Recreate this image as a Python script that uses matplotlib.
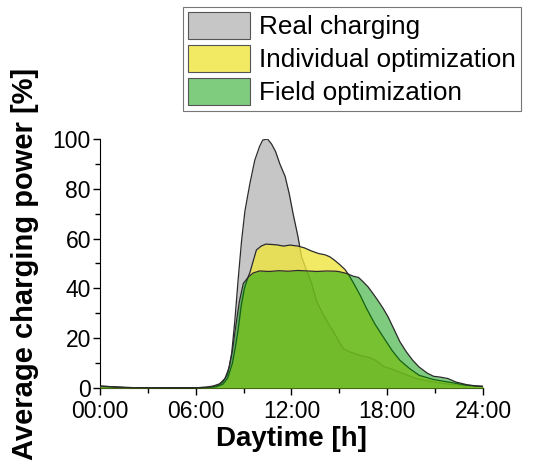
import matplotlib
matplotlib.use('Agg')
import matplotlib.pyplot as plt
from matplotlib.ticker import MultipleLocator, FuncFormatter

plt.rcParams['font.family'] = ['Liberation Sans', 'DejaVu Sans']

# real charging profile
real_h = [0, 0.5, 1, 1.5, 2, 4, 6, 6.8, 7.4, 7.7, 8.0, 8.25, 8.45, 8.65, 8.87, 9.08, 9.39, 9.7, 10.0,
          10.2, 10.5, 10.75, 11.0, 11.27, 11.6, 11.86, 12.1, 12.4, 12.63, 12.94, 13.26, 13.57, 13.9,
          14.3, 14.7, 15.24, 15.66, 16.28, 16.9, 17.33, 17.75, 18.37, 19.0, 19.8, 20.9, 21.9, 23.0, 24.0]
real_p = [0.8, 0.6, 0.4, 0.2, 0.15, 0.1, 0.1, 0.3, 1.0, 2.4, 5.5, 13.8, 27, 43, 59, 71, 82, 91.5, 97,
          99.6, 100, 98, 95, 90, 85, 78, 70, 61, 52.7, 47.3, 42, 35, 30.6,
          26, 21.8, 15.8, 14.5, 13.1, 12.2, 10.9, 8.7, 7.4, 5.8, 3.8, 2.4, 1.5, 0.8, 0.5]

# individual optimization
ind_h = [0, 0.5, 1, 1.5, 2, 4, 6, 6.8, 7.3, 7.7, 8.0, 8.3, 8.5, 8.65, 8.85, 9.05, 9.25, 9.4, 9.6, 9.8,
         10.1, 10.4, 11.06, 11.5, 11.9, 12.4, 12.8, 13.26, 13.7, 14.1, 14.4, 14.7, 15.0, 15.35, 15.6,
         15.9, 16.3, 16.7, 17.2, 17.75, 18.3, 18.8, 19.4, 20.0, 20.9, 21.9, 23.0, 24.0]
ind_p = [0.6, 0.5, 0.3, 0.2, 0.15, 0.1, 0.1, 0.2, 0.5, 1.5, 4, 10, 17, 23, 33, 40, 44, 46.5, 51, 55.4,
         57, 57.8, 57.5, 57, 57.4, 57, 56.3, 55, 54, 53.5, 52.7, 51.3, 49.7, 47.6, 45.3,
         42, 37.3, 32, 26, 20.5, 15.1, 11.1, 7.8, 5.1, 3.4, 2.3, 1.1, 0.6]

# field optimization
field_h = [0, 0.5, 1, 1.5, 2, 4, 6, 6.6, 7.1, 7.5, 7.83, 8.1, 8.3, 8.5, 8.73, 8.98, 9.3, 9.6, 10.0,
           10.6, 11.2, 11.8, 12.4, 13.0, 13.6, 14.2, 14.8, 15.0, 15.45, 15.87, 16.2, 16.5, 16.8,
           17.1, 17.4, 17.75, 18.05, 18.4, 18.8, 19.2, 19.6, 20.0, 20.5, 20.9, 21.3, 21.8, 22.3,
           23.0, 23.6, 24.0]
field_p = [0.7, 0.6, 0.4, 0.25, 0.15, 0.1, 0.1, 0.3, 0.8, 1.7, 3.8, 8.4, 15, 24.5, 34.6, 42, 44.6, 46.2, 47,
           46.8, 47.1, 46.9, 47.2, 47, 46.8, 47, 46.9, 46.7, 46, 44.9, 44.4, 42.6, 40.6,
           38, 35.3, 31.9, 28.6, 23.9, 18.5, 14.5, 11.1, 8.4, 6, 4.7, 4.4, 3.8, 2.4,
           1.3, 0.8, 0.7]

fig = plt.figure(figsize=(5.54, 4.66), dpi=100)
ax = fig.add_axes([0.1805, 0.1674, 0.6913, 0.5343])

edge = '#2b2b2b'
# each fill is drawn over the previous one's outline
ax.fill_between(real_h, real_p, color='#c6c6c6', alpha=1.0, lw=0, zorder=1)
ax.plot(real_h, real_p, color=edge, lw=0.9, zorder=2)
ax.fill_between(ind_h, ind_p, color='#efe53d', alpha=0.8, lw=0, zorder=3)
ax.plot(ind_h, ind_p, color=edge, lw=0.9, zorder=4)
ax.fill_between(field_h, field_p, color='#009900', alpha=0.5, lw=0, zorder=5)
ax.plot(field_h, field_p, color=edge, lw=0.9, zorder=6)

ax.set_xlim(0, 24)
ax.set_ylim(0, 100)
ax.spines['top'].set_visible(False)
ax.spines['right'].set_visible(False)
ax.xaxis.set_major_locator(MultipleLocator(6))
ax.xaxis.set_minor_locator(MultipleLocator(3))
ax.yaxis.set_major_locator(MultipleLocator(20))
ax.yaxis.set_minor_locator(MultipleLocator(10))
ax.xaxis.set_major_formatter(FuncFormatter(lambda v, p: '%02d:00' % int(v)))
ax.tick_params(which='major', direction='out', length=5, width=1, labelsize=16.5)
ax.tick_params(axis='x', which='major', pad=4)
ax.tick_params(axis='y', which='major', pad=1.5)
ax.tick_params(which='minor', direction='out', length=3.5, width=1)

ax.set_xlabel('Daytime [h]', fontsize=20, fontweight='bold', labelpad=2)
ax.set_ylabel('Average charging power [%]', fontsize=21, fontweight='bold', labelpad=10)

handles = [plt.Rectangle((0, 0), 1, 1, fc='#c6c6c6', ec='#555555', lw=0.8),
           plt.Rectangle((0, 0), 1, 1, fc='#f2ea62', ec='#555555', lw=0.8),
           plt.Rectangle((0, 0), 1, 1, fc='#7fcc7f', ec='#555555', lw=0.8)]
leg = fig.legend(handles, ['Real charging', 'Individual optimization', 'Field optimization'],
                 loc='upper left', bbox_to_anchor=(183 / 554, 1 - 7 / 466), fontsize=18.8,
                 fancybox=False, framealpha=1, edgecolor='#777777', handlelength=2.35,
                 handleheight=1.2, labelspacing=0.22, handletextpad=0.35, borderpad=0.2,
                 borderaxespad=0)
leg.get_frame().set_linewidth(0.8)

plt.savefig('out.png', dpi=100)
